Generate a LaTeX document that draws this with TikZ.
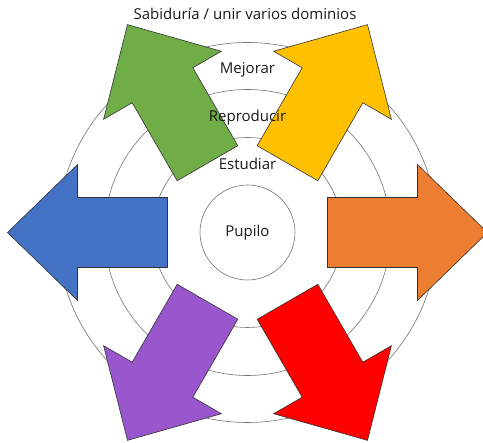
\documentclass[tikz,border=0pt]{standalone}
\usepackage{fontspec}
\setmainfont{Open Sans}
\usetikzlibrary{positioning}
\definecolor{verde}{HTML}{70AD47}
\definecolor{amarillo}{HTML}{FFC000}
\definecolor{naranja}{HTML}{ED7D31}
\definecolor{azul}{HTML}{4472C4}
\definecolor{morado}{HTML}{9A57CD}
\definecolor{rojo}{HTML}{FF0000}

\begin{document}
\begin{tikzpicture}[x=1pt,y=1pt,
    ring/.style={draw=black!55,line width=0.6pt},
    flecha/.style={draw=black!80,line width=0.6pt},
    etiqueta/.style={font=\fontsize{15}{17}\selectfont,text=black!90}]
          \useasboundingbox (-247.5,-210.5) rectangle (235.5,232.5);
          % anillos
          \draw[ring] (0,0) circle (190);
          \draw[ring] (0,0) circle (143);
          \draw[ring] (0,0) circle (95);
          \node[ring,circle,minimum size=95,etiqueta] (pupilo) at (0,0) {Pupilo};
          % flechas
          \draw[flecha,fill=naranja,rotate=0] (80,-35) -- (170,-35) -- (170,-68) -- (240,0) -- (170,68) -- (170,35) -- (80,35) -- cycle;
          \draw[flecha,fill=amarillo,rotate=60] (80,-35) -- (170,-35) -- (170,-68) -- (240,0) -- (170,68) -- (170,35) -- (80,35) -- cycle;
          \draw[flecha,fill=verde,rotate=120] (80,-35) -- (170,-35) -- (170,-68) -- (240,0) -- (170,68) -- (170,35) -- (80,35) -- cycle;
          \draw[flecha,fill=azul,rotate=180] (80,-35) -- (170,-35) -- (170,-68) -- (240,0) -- (170,68) -- (170,35) -- (80,35) -- cycle;
          \draw[flecha,fill=morado,rotate=240] (80,-35) -- (170,-35) -- (170,-68) -- (240,0) -- (170,68) -- (170,35) -- (80,35) -- cycle;
          \draw[flecha,fill=rojo,rotate=300] (80,-35) -- (170,-35) -- (170,-68) -- (240,0) -- (170,68) -- (170,35) -- (80,35) -- cycle;
          % niveles
          \node[etiqueta] (estudiar) at (0,68.5) {Estudiar};
          \node[etiqueta] (reproducir) at (0,114.5) {Reproducir};
          \node[etiqueta] (mejorar) at (0,162.5) {Mejorar};
          \node[etiqueta] (sabiduria) at (-2.5,218.5) {Sabiduría / unir varios dominios};
\end{tikzpicture}
\end{document}
